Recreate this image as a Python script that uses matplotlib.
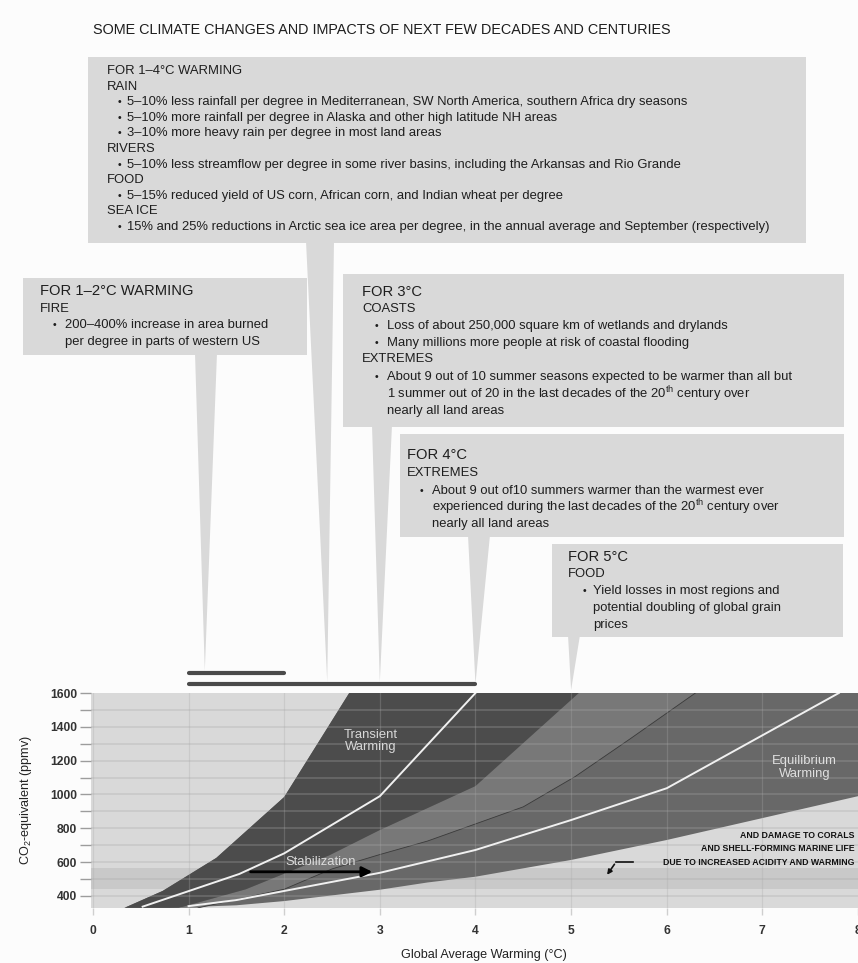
import numpy as np
import matplotlib.pyplot as plt
from matplotlib import font_manager
from matplotlib.patches import Polygon, Rectangle

# ---- data (warming in degC, CO2-eq in ppmv) ----
trans_hi_x = [0.33, 0.73, 1.29, 2.0, 2.68]
trans_hi_y = [330, 430, 625, 985, 1600]
trans_mid_x = [0.52, 1.53, 2.0, 3.0, 4.0]
trans_mid_y = [337, 530, 652, 990, 1600]
trans_lo_x = [0.9, 1.6, 2.47, 3.0, 4.0, 5.08]
trans_lo_y = [330, 440, 640, 790, 1050, 1600]
eq_hi_x = [1.1, 2.0, 2.5, 3.0, 3.5, 4.5, 5.04, 5.62, 6.3]
eq_hi_y = [330, 440, 560, 645, 725, 927, 1105, 1330, 1600]
eq_mid_x = [1.0, 1.5, 3.0, 4.0, 5.0, 6.0, 7.8]
eq_mid_y = [340, 376, 537, 672, 849, 1037, 1600]
eq_lo_x = [0.8, 1.5, 2.0, 3.0, 3.5, 4.0, 5.0, 6.0, 8.0]
eq_lo_y = [330, 345, 370, 437, 480, 514, 613, 731, 990]

stab_x = [1.62, 2.95]
stab_level = 543
coral_band = (440, 568)
coral_lines = ['AND DAMAGE TO CORALS', 'AND SHELL-FORMING MARINE LIFE',
               'DUE TO INCREASED ACIDITY AND WARMING']

xticks = list(range(0, 9))
yticks = list(range(400, 1601, 200))

ranges = [(1, 2), (1, 4)]
callout_targets = [1.17, 2.45, 3.0, 4.0, 5.0]

top_lines = [('s', 'FOR 1–4°C WARMING'), ('s', 'RAIN'),
             ('b', '5–10% less rainfall per degree in Mediterranean, SW North America, southern Africa dry seasons'),
             ('b', '5–10% more rainfall per degree in Alaska and other high latitude NH areas'),
             ('b', '3–10% more heavy rain per degree in most land areas'),
             ('s', 'RIVERS'),
             ('b', '5–10% less streamflow per degree in some river basins, including the Arkansas and Rio Grande'),
             ('s', 'FOOD'),
             ('b', '5–15% reduced yield of US corn, African corn, and Indian wheat per degree'),
             ('s', 'SEA ICE'),
             ('b', '15% and 25% reductions in Arctic sea ice area per degree, in the annual average and September (respectively)')]
fire_lines = [('h', 'FOR 1–2°C WARMING'), ('s', 'FIRE'),
              ('b', '200–400% increase in area burned'),
              ('c', 'per degree in parts of western US')]
c3_lines = [('h', 'FOR 3°C'), ('s', 'COASTS'),
            ('b', 'Loss of about 250,000 square km of wetlands and drylands'),
            ('b', 'Many millions more people at risk of coastal flooding'),
            ('s', 'EXTREMES'),
            ('b', 'About 9 out of 10 summer seasons expected to be warmer than all but'),
            ('c', '1 summer out of 20 in the last decades of the 20$^{\\rm th}$ century over'),
            ('c', 'nearly all land areas')]
c4_lines = [('h', 'FOR 4°C'), ('s', 'EXTREMES'),
            ('b', 'About 9 out of10 summers warmer than the warmest ever'),
            ('c', 'experienced during the last decades of the 20$^{\\rm th}$ century over'),
            ('c', 'nearly all land areas')]
c5_lines = [('h', 'FOR 5°C'), ('s', 'FOOD'),
            ('b', 'Yield losses in most regions and'),
            ('c', 'potential doubling of global grain'),
            ('c', 'prices')]

# ---- fonts ----
names = {f.name for f in font_manager.fontManager.ttflist}
NARROW = 'Liberation Sans Narrow' in names
FONT = 'Liberation Sans Narrow' if NARROW else 'Liberation Sans'
k = 1.19 if NARROW else 1.0
plt.rcParams['font.family'] = [FONT, 'DejaVu Sans']
plt.rcParams['mathtext.fontset'] = 'custom'
plt.rcParams['mathtext.rm'] = FONT
plt.rcParams['mathtext.it'] = FONT + ':italic'
plt.rcParams['mathtext.bf'] = FONT + ':bold'

W, H = 858, 963
fig = plt.figure(figsize=(W / 100, H / 100), dpi=100)
fig.patch.set_facecolor('#fcfcfc')

# main chart, placed in pixels
L, R, T, B = 91, 858, 693, 908
ax = fig.add_axes([L / W, 1 - B / H, (R - L) / W, (B - T) / H], zorder=2)
ax.set_facecolor('#d9d9d9')
ax.set_xlim(-0.02, 7.97)
ax.set_ylim(329, 1600)
for s in ax.spines.values():
    s.set_visible(False)

ax.axhspan(*coral_band, color='#c9c9c9', lw=0, zorder=0.5)

# equilibrium band (whole envelope)
ax.fill(np.r_[trans_hi_x, [8.5, 8.5], eq_lo_x[::-1]],
        np.r_[trans_hi_y, [1600, eq_lo_y[-1]], eq_lo_y[::-1]],
        color='#686868', lw=0, zorder=1)
# lighter overlap band
ax.fill(np.r_[trans_lo_x, eq_hi_x[::-1]], np.r_[trans_lo_y, eq_hi_y[::-1]],
        color='#787878', lw=0, zorder=1.1)
# transient band
ax.fill(np.r_[trans_hi_x, trans_lo_x[::-1]], np.r_[trans_hi_y, trans_lo_y[::-1]],
        color='#4c4c4c', lw=0, zorder=1.2)
ax.plot(eq_hi_x, eq_hi_y, color='#3a3a3a', lw=0.6, zorder=1.3)

for y in range(400, 1600, 100):
    ax.axhline(y, color='#a8a8a8', alpha=0.3, lw=1.3, zorder=2)
for x in range(0, 8):
    ax.axvline(x, color='#a8a8a8', alpha=0.3, lw=0.9, zorder=2)

ax.plot(trans_mid_x, trans_mid_y, color='#f0f0f0', lw=1.4, zorder=3)
ax.plot(eq_mid_x, eq_mid_y, color='#f0f0f0', lw=1.4, zorder=3)

ax.annotate('', xy=(stab_x[1], stab_level), xytext=(stab_x[0], stab_level),
            arrowprops=dict(arrowstyle='-|>', color='black', lw=2, mutation_scale=15),
            zorder=4)
ax.text(np.mean(stab_x) + 0.1, stab_level + 55, 'Stabilization', color='#dcdcdc',
        fontsize=9.4 * k, ha='center', va='center', zorder=4)
ax.text(2.9, 1316, 'Transient\nWarming', color='#d8d8d8', fontsize=9.4 * k,
        ha='center', va='center', linespacing=1.1, zorder=4)
ax.text(7.44, 1157, 'Equilibrium\nWarming', color='#e0e0e0', fontsize=9.4 * k,
        ha='center', va='center', linespacing=1.1, zorder=4)

for i, s in enumerate(coral_lines):
    ax.text(7.96, 760 - i * 80, s, fontsize=6.3 * k, fontweight='bold',
            ha='right', va='center', color='#111111', zorder=4)
ax.plot([5.65, 5.47], [601, 601], color='#111111', lw=1.2, zorder=4)
ax.annotate('', xy=(5.36, 512), xytext=(5.47, 601),
            arrowprops=dict(arrowstyle='-|>', color='#111111', lw=1.2, mutation_scale=7),
            zorder=4)

ax.set_xticks(xticks)
ax.set_yticks(yticks)
ax.set_yticks(range(400, 1600, 100), minor=True)
ax.tick_params(axis='y', which='both', length=8, width=1, color='#9c9c9c',
               pad=2, labelsize=8.7 * k, labelcolor='#333333')
ax.tick_params(axis='x', length=5, width=1, color='#cfcfcf', pad=7,
               labelsize=8.7 * k, labelcolor='#333333')
for lab in ax.get_xticklabels() + ax.get_yticklabels():
    lab.set_fontweight('bold')

fig.text(484 / W, 1 - 955 / H, 'Global Average Warming (°C)', fontsize=9.1 * k,
         ha='center', va='center', color='#222222')
fig.text(26 / W, 1 - 800 / H, 'CO$_2$-equivalent (ppmv)', fontsize=9.1 * k,
         rotation=90, ha='center', va='center', color='#222222')

# range bars above the chart
bar_levels = [(B - 673) / (B - T), (B - 684) / (B - T)]
for (a, b), lv in zip(ranges, bar_levels):
    ax.plot([a, b], [lv, lv], transform=ax.get_xaxis_transform(), clip_on=False,
            color='#4a4a4a', lw=3, solid_capstyle='round', zorder=5)

# ---- callout layer in pixel coordinates ----
ov = fig.add_axes([0, 0, 1, 1], zorder=1)
ov.set_xlim(0, W)
ov.set_ylim(H, 0)
ov.axis('off')

ov.text(93, 30, 'SOME CLIMATE CHANGES AND IMPACTS OF NEXT FEW DECADES AND CENTURIES',
        fontsize=10.4 * k, ha='left', va='center', color='#1e1e1e')

BOX = '#d9d9d9'
boxes = [
    (top_lines, (88, 57, 806, 243), [71 + 15.6 * i for i in range(11)], (107, 118, 127)),
    (fire_lines, (23, 278, 307, 355), [291, 309, 325, 342], (40, 53, 65)),
    (c3_lines, (343, 274, 844, 427), [292, 309, 326, 343, 359, 377, 394, 411], (362, 375, 387)),
    (c4_lines, (400, 434, 844, 537), [455, 473, 491, 507, 524], (407, 420, 432)),
    (c5_lines, (552, 544, 843, 637), [557, 574, 591, 608, 625], (568, 583, 593)),
]
# pointer base (x0, x1) and tip y in pixels, one for each target
pointers = [((195, 217), 355, 671), ((306, 334), 243, 682), ((372, 392), 427, 682),
            ((468, 490), 537, 684), ((568, 580), 637, 690)]

for (bx, by, ty), t in zip(pointers, callout_targets):
    tip = ax.transData.transform((t, 1600))[0]
    ov.add_patch(Polygon([(bx[0], by - 2), (bx[1], by - 2), (tip, ty)],
                         closed=True, facecolor=BOX, edgecolor='none'))

for lines, (x0, y0, x1, y1), ys, (hx, bx, tx) in boxes:
    ov.add_patch(Rectangle((x0, y0), x1 - x0, y1 - y0, facecolor=BOX,
                           edgecolor='none'))
    for (kind, s), y in zip(lines, ys):
        if kind == 'h':
            ov.text(hx, y, s, fontsize=10.6 * k, ha='left', va='center', color='#1e1e1e')
        elif kind == 's':
            ov.text(hx, y, s, fontsize=9.4 * k, ha='left', va='center', color='#1e1e1e')
        elif kind == 'b':
            ov.text(bx, y, '•', fontsize=7.5 * k, ha='left', va='center', color='#1e1e1e')
            ov.text(tx, y, s, fontsize=9.4 * k, ha='left', va='center', color='#1e1e1e')
        else:
            ov.text(tx, y, s, fontsize=9.4 * k, ha='left', va='center', color='#1e1e1e')

fig.savefig('out.png', dpi=100, facecolor=fig.get_facecolor())
